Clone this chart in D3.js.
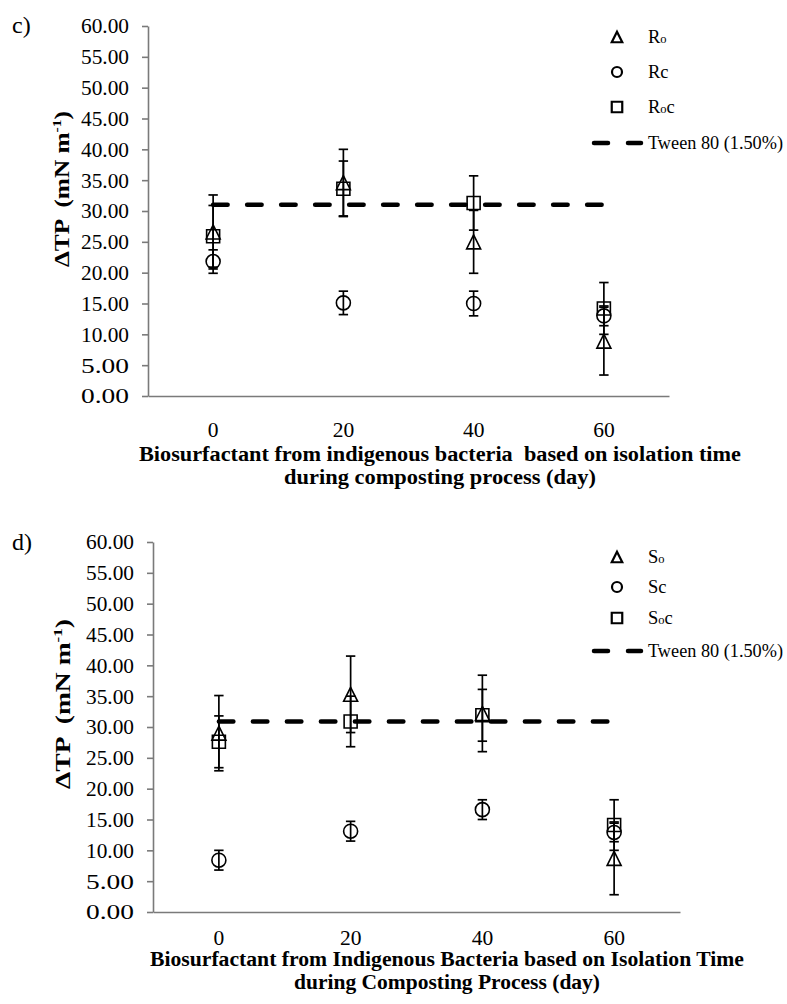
<!DOCTYPE html>
<html>
<head>
<meta charset="utf-8">
<script src="https://cdnjs.cloudflare.com/ajax/libs/d3/7.8.5/d3.min.js"></script>
<style>
  html, body { margin: 0; padding: 0; background: #fff; }
  svg { display: block; }
  text { font-family: "Liberation Serif", "Times New Roman", serif; fill: #000; white-space: pre; }
</style>
</head>
<body>
<script>
// ---------- DATA ----------
const days = [0, 20, 40, 60];
const yTicks = [0, 5, 10, 15, 20, 25, 30, 35, 40, 45, 50, 55, 60];

// Panel c
const R0 = [26.6, 34.6, 25.0, 8.9];
const R0Err = [6.0, 5.4, 5.1, 5.5];
const Rc = [21.8, 15.1, 15.0, 13.0];
const RcErr = [1.9, 1.9, 2.0, 1.6];
const R0c = [25.9, 33.6, 31.3, 14.2];
const R0cErr = [5.0, 4.5, 4.4, 4.2];
const tweenC = 31.0;

// Panel d
const S0 = [29.0, 35.3, 32.2, 8.7];
const S0Err = [6.1, 6.2, 6.2, 5.9];
const Sc = [8.4, 13.1, 16.6, 12.9];
const ScErr = [1.6, 1.6, 1.6, 1.5];
const S0c = [27.6, 30.9, 31.9, 14.1];
const S0cErr = [4.2, 4.1, 4.2, 4.1];
const tweenD = 30.9;

const tweenLabel = "Tween 80 (1.50%)";
const yTitleMain = "\u0394TP  (mN m";
const titleC = ["Biosurfactant from indigenous bacteria  based on isolation time", "during composting process (day)"];
const titleD = ["Biosurfactant from Indigenous Bacteria based on Isolation Time", "during Composting Process (day)"];

// ---------- DRAW ----------
const svg = d3.select("body").append("svg").attr("width", 787).attr("height", 1004);
svg.append("rect").attr("width", 787).attr("height", 1004).attr("fill", "#fff");

function markerPath(shape, s) {
  if (shape === "triangle") {
    return `M0,${-s/2} L${s/2},${s/2} L${-s/2},${s/2} Z`;
  }
  return `M${-s/2},${-s/2} H${s/2} V${s/2} H${-s/2} Z`;
}

function drawMarker(g, shape, cx, cy, s, sw) {
  if (shape === "circle") {
    g.append("circle").attr("cx", cx).attr("cy", cy).attr("r", s/2)
      .attr("fill", "none").attr("stroke", "#000").attr("stroke-width", sw);
  } else {
    g.append("path").attr("d", markerPath(shape, s))
      .attr("transform", `translate(${cx},${cy})`)
      .attr("fill", "none").attr("stroke", "#000").attr("stroke-width", sw);
  }
}

function drawPanel(cfg) {
  const g = svg.append("g");
  const x = d3.scaleLinear().domain([-10, 70]).range(cfg.xRange);
  const y = d3.scaleLinear().domain([0, 60]).range(cfg.yRange);
  const axisColor = "#7a7a7a";

  // y axis
  const yAxis = d3.axisLeft(y).tickValues(yTicks).tickSize(6).tickSizeOuter(0)
    .tickFormat(d3.format(".2f")).tickPadding(13);
  const ya = g.append("g").attr("transform", `translate(${cfg.xRange[0]},0)`).call(yAxis);
  ya.select(".domain").attr("stroke", axisColor).attr("stroke-width", 1.6);
  ya.selectAll(".tick line").attr("stroke", axisColor).attr("stroke-width", 1.6);
  ya.selectAll(".tick text").attr("font-size", 21.5).attr("fill", "#000")
    .attr("textLength", 48).attr("lengthAdjust", "spacingAndGlyphs");

  // x axis line (no ticks)
  const xAxis = d3.axisBottom(x).tickValues([]).tickSizeOuter(0);
  const xa = g.append("g").attr("transform", `translate(0,${y(0)})`).call(xAxis);
  xa.select(".domain").attr("stroke", axisColor).attr("stroke-width", 1.6);

  // x labels
  g.selectAll(".xl").data(days).enter().append("text")
    .attr("x", d => x(d)).attr("y", cfg.xLabelY)
    .attr("text-anchor", "middle").attr("font-size", 21.5).text(d => d);

  // x title
  cfg.title.forEach((t, i) => {
    g.append("text").attr("x", cfg.titleX).attr("y", cfg.titleY[i])
      .attr("text-anchor", "middle").attr("font-size", 20).attr("font-weight", "bold")
      .attr("textLength", cfg.titleLen[i]).attr("lengthAdjust", "spacingAndGlyphs")
      .text(t);
  });

  // y title
  const yt = g.append("text").attr("transform", `translate(${cfg.yTitleX},${cfg.yTitleY}) rotate(-90)`)
    .attr("text-anchor", "middle").attr("font-size", 21).attr("font-weight", "bold")
    .attr("textLength", cfg.yTitleLen).attr("lengthAdjust", "spacingAndGlyphs");
  yt.append("tspan").text(yTitleMain);
  yt.append("tspan").attr("font-size", 13).attr("dy", -8).text("-1");
  yt.append("tspan").attr("dy", 8).text(")");

  // panel letter
  g.append("text").attr("x", 12).attr("y", cfg.letterY).attr("font-size", 24).text(cfg.letter);

  // tween line
  g.append("line").attr("x1", x(days[0])).attr("x2", x(days[days.length - 1]))
    .attr("y1", y(cfg.tween)).attr("y2", y(cfg.tween))
    .attr("stroke", "#000").attr("stroke-width", 4.5).attr("stroke-linecap", "round")
    .attr("stroke-dasharray", "14.5,19.5");

  // series
  cfg.series.forEach(s => {
    const sg = g.append("g");
    s.values.forEach((v, i) => {
      const cx = x(days[i]);
      const yTop = y(v + s.err[i]), yBot = y(v - s.err[i]);
      sg.append("line").attr("x1", cx).attr("x2", cx).attr("y1", yTop).attr("y2", yBot)
        .attr("stroke", "#000").attr("stroke-width", 1.7);
      [yTop, yBot].forEach(yy => sg.append("line").attr("x1", cx - 4.7).attr("x2", cx + 4.7)
        .attr("y1", yy).attr("y2", yy).attr("stroke", "#000").attr("stroke-width", 1.7));
      drawMarker(sg, s.shape, cx, y(v), s.shape === "square" ? 13 : 14, 1.6);
    });
  });

  // legend
  const lg = g.append("g");
  cfg.series.forEach((s, i) => {
    const ly = cfg.legendY[i];
    drawMarker(lg, s.shape, 617, ly, s.shape === "circle" ? 10 : 10.5, 2.2);
    const t = lg.append("text").attr("x", 648).attr("y", ly + 6).attr("font-size", 18.5);
    s.label.forEach(part => {
      const ts = t.append("tspan").text(part.t);
      if (part.sub) ts.attr("font-size", 12.5);
    });
  });
  const ty = cfg.legendY[3];
  lg.append("line").attr("x1", 594).attr("x2", 608).attr("y1", ty).attr("y2", ty)
    .attr("stroke", "#000").attr("stroke-width", 4.5).attr("stroke-linecap", "round");
  lg.append("line").attr("x1", 628).attr("x2", 641).attr("y1", ty).attr("y2", ty)
    .attr("stroke", "#000").attr("stroke-width", 4.5).attr("stroke-linecap", "round");
  lg.append("text").attr("x", 648).attr("y", ty + 6).attr("font-size", 18.5)
    .attr("textLength", 135).attr("lengthAdjust", "spacingAndGlyphs").text(tweenLabel);
}

drawPanel({
  letter: "c)", letterY: 33,
  xRange: [148, 669], yRange: [396, 26],
  xLabelY: 437, title: titleC, titleX: 440, titleY: [461, 484], titleLen: [602, 312],
  yTitleX: 69, yTitleY: 189, yTitleLen: 156,
  tween: tweenC,
  legendY: [37, 72, 107, 143],
  series: [
    { shape: "triangle", values: R0, err: R0Err, label: [{t: "R"}, {t: "o", sub: true}] },
    { shape: "circle", values: Rc, err: RcErr, label: [{t: "Rc"}] },
    { shape: "square", values: R0c, err: R0cErr, label: [{t: "R"}, {t: "o", sub: true}, {t: "c"}] }
  ]
});

drawPanel({
  letter: "d)", letterY: 550,
  xRange: [153, 680], yRange: [912, 542],
  xLabelY: 945, title: titleD, titleX: 447, titleY: [966, 989], titleLen: [594, 306],
  yTitleX: 70, yTitleY: 704, yTitleLen: 170,
  tween: tweenD,
  legendY: [557, 587, 618, 651],
  series: [
    { shape: "triangle", values: S0, err: S0Err, label: [{t: "S"}, {t: "o", sub: true}] },
    { shape: "circle", values: Sc, err: ScErr, label: [{t: "Sc"}] },
    { shape: "square", values: S0c, err: S0cErr, label: [{t: "S"}, {t: "o", sub: true}, {t: "c"}] }
  ]
});
</script>
</body>
</html>
